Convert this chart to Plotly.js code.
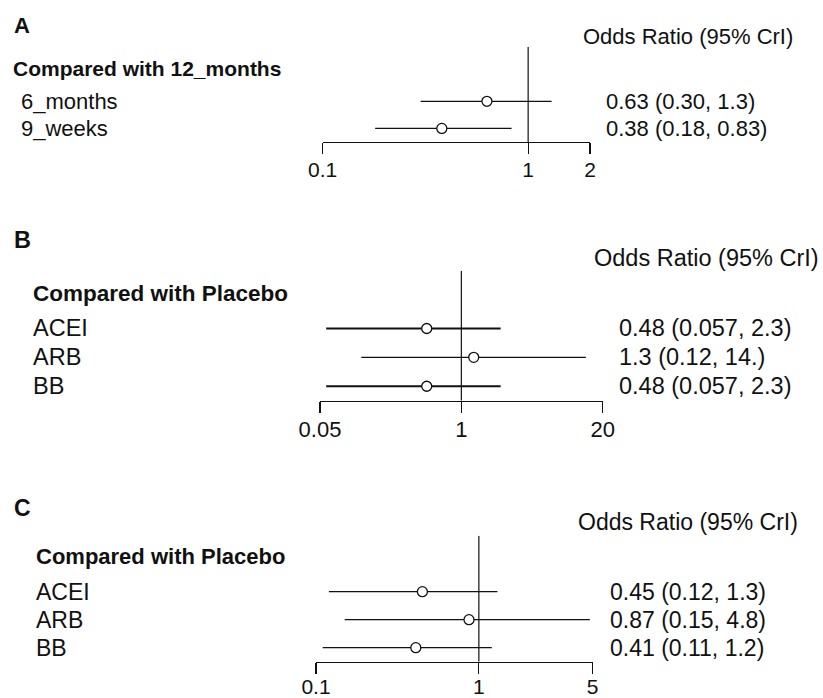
<!DOCTYPE html>
<html>
<head>
<meta charset="utf-8">
<script src="https://cdn.plot.ly/plotly-3.0.1.min.js"></script>
<style>
  html, body { margin: 0; padding: 0; background: #fff; }
  #chart { width: 823px; height: 698px; }
</style>
</head>
<body>
<div id="chart"></div>
<script>
// ---------------- DATA ----------------
const refValue = 1;
const columnHeader = 'Odds Ratio (95% CrI)';

// Panel A
const panelALetter = 'A';
const panelAHeader = 'Compared with 12_months';
const panelALabels = ['6_months', '9_weeks'];
const panelAOR = [0.63, 0.38];
const panelALo = [0.30, 0.18];
const panelAHi = [1.3, 0.83];
const panelAText = ['0.63 (0.30, 1.3)', '0.38 (0.18, 0.83)'];
const panelATicks = [0.1, 1, 2];
const panelATickText = ['0.1', '1', '2'];

// Panel B
const panelBLetter = 'B';
const panelBHeader = 'Compared with Placebo';
const panelBLabels = ['ACEI', 'ARB', 'BB'];
const panelBOR = [0.48, 1.3, 0.48];
const panelBLo = [0.057, 0.12, 0.057];
const panelBHi = [2.3, 14, 2.3];
const panelBText = ['0.48 (0.057, 2.3)', '1.3 (0.12, 14.)', '0.48 (0.057, 2.3)'];
const panelBTicks = [0.05, 1, 20];
const panelBTickText = ['0.05', '1', '20'];

// Panel C
const panelCLetter = 'C';
const panelCHeader = 'Compared with Placebo';
const panelCLabels = ['ACEI', 'ARB', 'BB'];
const panelCOR = [0.45, 0.87, 0.41];
const panelCLo = [0.12, 0.15, 0.11];
const panelCHi = [1.3, 4.8, 1.2];
const panelCText = ['0.45 (0.12, 1.3)', '0.87 (0.15, 4.8)', '0.41 (0.11, 1.2)'];
const panelCTicks = [0.1, 1, 5];
const panelCTickText = ['0.1', '1', '5'];

// ---------------- LAYOUT / STYLE ----------------
const W = 823, H = 698;
const px = x => x / W;
const py = y => 1 - y / H;
const FONT = 'Liberation Sans, Arial, Helvetica, sans-serif';
const INK = '#111111';

const panels = [
  {
    letter: panelALetter, header: panelAHeader, labels: panelALabels,
    or: panelAOR, lo: panelALo, hi: panelAHi, text: panelAText,
    ticks: panelATicks, tickText: panelATickText,
    lineWidths: [1.2, 1.2],
    xDom: [322.7, 590], yDom: [47, 142],
    fs: 22, tickFs: 21, tickStandoff: -2,
    letterPos: [12, 25], headerPos: [11, 68.7], labelX: 19,
    colHeadPos: [581, 36.7], rightX: 604
  },
  {
    letter: panelBLetter, header: panelBHeader, labels: panelBLabels,
    or: panelBOR, lo: panelBLo, hi: panelBHi, text: panelBText,
    ticks: panelBTicks, tickText: panelBTickText,
    lineWidths: [2.2, 1.2, 2.2],
    xDom: [320, 602.7], yDom: [270.7, 400.7],
    fs: 23.5, tickFs: 22, tickStandoff: -2,
    letterPos: [12, 240], headerPos: [31, 293.5], labelX: 31,
    colHeadPos: [592, 258], rightX: 617
  },
  {
    letter: panelCLetter, header: panelCHeader, labels: panelCLabels,
    or: panelCOR, lo: panelCLo, hi: panelCHi, text: panelCText,
    ticks: panelCTicks, tickText: panelCTickText,
    lineWidths: [1.2, 1.2, 1.2],
    xDom: [316, 592.7], yDom: [535.7, 661.7],
    fs: 23, tickFs: 21, tickStandoff: -5,
    letterPos: [12, 508], headerPos: [34, 556.7], labelX: 34,
    colHeadPos: [576, 521.7], rightX: 608
  }
];

const traces = [];
const annotations = [];
const layout = {
  width: W, height: H,
  margin: { l: 0, r: 0, t: 0, b: 0 },
  paper_bgcolor: '#ffffff', plot_bgcolor: '#ffffff',
  showlegend: false,
  font: { family: FONT, color: INK },
  annotations: annotations
};

panels.forEach((p, k) => {
  const sfx = k === 0 ? '' : String(k + 1);
  const xName = 'x' + sfx, yName = 'y' + sfx;
  const n = p.labels.length;
  const rows = p.labels.map((_, i) => i + 1);

  layout['xaxis' + sfx] = {
    type: 'log',
    domain: [px(p.xDom[0]), px(p.xDom[1])],
    range: [Math.log10(p.ticks[0]), Math.log10(p.ticks[p.ticks.length - 1])],
    anchor: yName,
    tickmode: 'array', tickvals: p.ticks, ticktext: p.tickText,
    ticks: 'outside', ticklen: 11, tickwidth: 1.2, tickcolor: INK,
    ticklabelstandoff: p.tickStandoff,
    showline: true, linecolor: INK, linewidth: 1.2,
    showgrid: false, zeroline: false,
    tickfont: { family: FONT, size: p.tickFs, color: INK },
    fixedrange: true
  };
  layout['yaxis' + sfx] = {
    domain: [py(p.yDom[1]), py(p.yDom[0])],
    range: [n + 0.5, -1],
    anchor: xName,
    visible: false, showgrid: false, zeroline: false, fixedrange: true
  };

  // reference line at OR = 1
  traces.push({
    type: 'scatter', mode: 'lines', xaxis: xName, yaxis: yName,
    x: [refValue, refValue], y: [-1, n + 0.5],
    line: { color: INK, width: 1.2 }, hoverinfo: 'skip'
  });
  // credible-interval segments
  rows.forEach((r, i) => {
    traces.push({
      type: 'scatter', mode: 'lines', xaxis: xName, yaxis: yName,
      x: [p.lo[i], p.hi[i]], y: [r, r],
      line: { color: INK, width: p.lineWidths[i] }, hoverinfo: 'skip'
    });
  });
  // point estimates
  traces.push({
    type: 'scatter', mode: 'markers', xaxis: xName, yaxis: yName,
    x: p.or, y: rows, cliponaxis: false,
    marker: { symbol: 'circle', size: 10, color: '#ffffff', line: { color: INK, width: 1.3 } },
    hoverinfo: 'x'
  });

  // texts
  annotations.push({
    xref: 'paper', yref: 'paper', x: px(p.letterPos[0]), y: py(p.letterPos[1]),
    xanchor: 'left', yanchor: 'middle', showarrow: false,
    text: '<b>' + p.letter + '</b>', font: { family: FONT, size: p.fs, color: INK }
  });
  annotations.push({
    xref: 'paper', yref: 'paper', x: px(p.headerPos[0]), y: py(p.headerPos[1]),
    xanchor: 'left', yanchor: 'middle', showarrow: false,
    text: '<b>' + p.header + '</b>', font: { family: FONT, size: p.fs - 1, color: INK }
  });
  annotations.push({
    xref: 'paper', yref: 'paper', x: px(p.colHeadPos[0]), y: py(p.colHeadPos[1]),
    xanchor: 'left', yanchor: 'middle', showarrow: false,
    text: columnHeader, font: { family: FONT, size: p.fs, color: INK }
  });
  rows.forEach((r, i) => {
    annotations.push({
      xref: 'paper', yref: yName, x: px(p.labelX), y: r,
      xanchor: 'left', yanchor: 'middle', showarrow: false,
      text: p.labels[i], font: { family: FONT, size: p.fs, color: INK }
    });
    annotations.push({
      xref: 'paper', yref: yName, x: px(p.rightX), y: r,
      xanchor: 'left', yanchor: 'middle', showarrow: false,
      text: p.text[i], font: { family: FONT, size: p.fs, color: INK }
    });
  });
});

Plotly.newPlot('chart', traces, layout, { displayModeBar: false, staticPlot: true });
</script>
</body>
</html>
